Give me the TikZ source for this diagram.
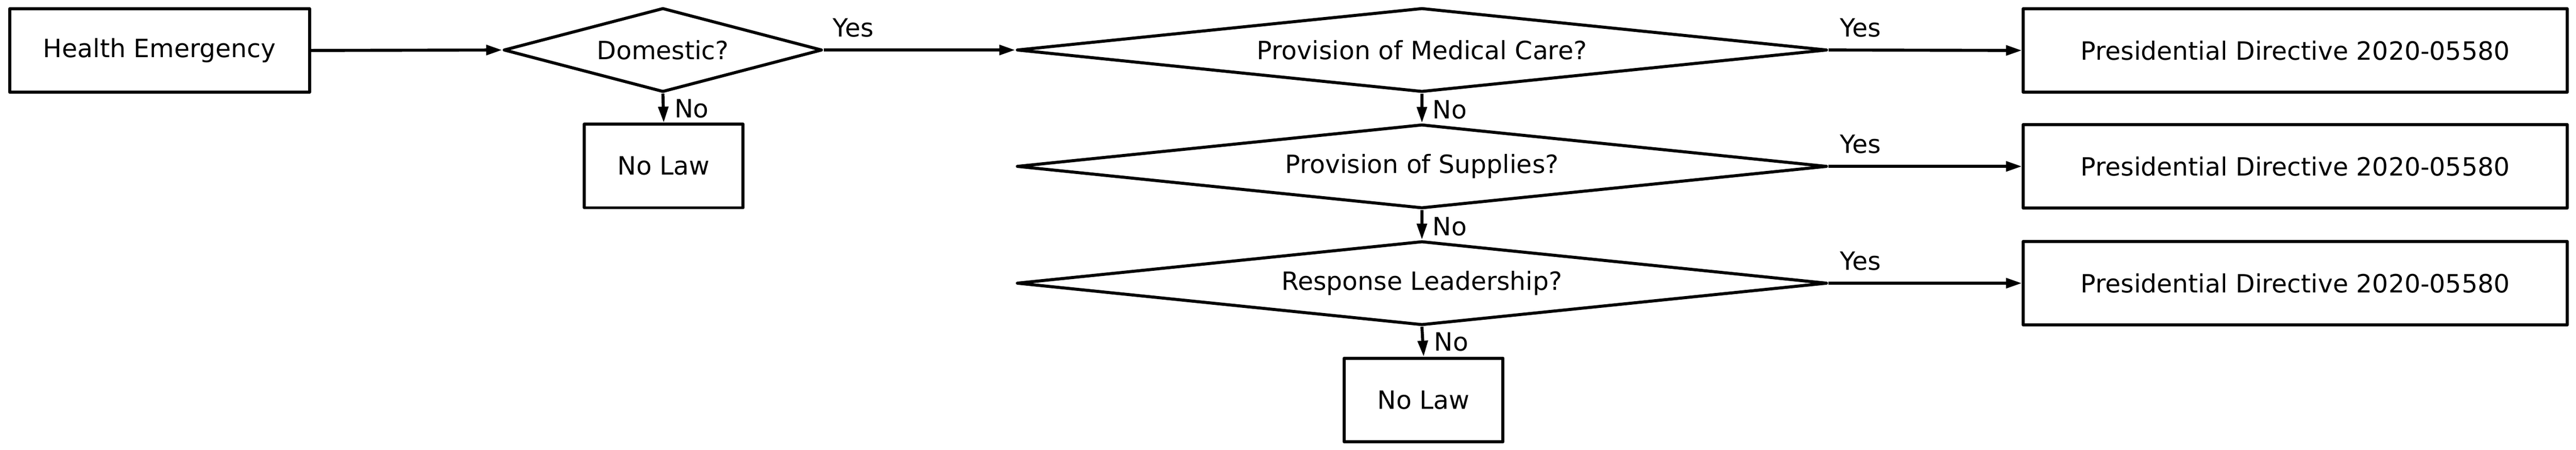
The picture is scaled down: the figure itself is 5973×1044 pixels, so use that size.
\documentclass[tikz,border=0pt]{standalone}
\usepackage{fontspec}
\setmainfont{DejaVu Sans}
\usetikzlibrary{shapes.geometric,arrows.meta}
\begin{document}
\begin{tikzpicture}[x=0.01cm,y=-0.01cm,
  every node/.style={font=\fontsize{16.6pt}{20pt}\selectfont},
  box/.style={draw,line width=2pt,line join=round,rectangle,inner sep=0pt,minimum height=1.94cm},
  dia/.style={draw,line width=2pt,line join=round,diamond,inner sep=0pt,aspect=6,minimum height=1.95cm},
  conn/.style={line width=2pt,-{Triangle[length=10.5pt,width=6.5pt]}},
  lab/.style={anchor=base west,inner sep=0pt}]
\useasboundingbox (0,0) rectangle (5973,1044);
\node[box,minimum width=6.95cm] (he) at (370,117) {Health Emergency};
\node[dia,minimum width=7.38cm] (dom) at (1537,116) {Domestic?};
\node[box,minimum width=3.68cm] (nl1) at (1539,385) {No Law};
\node[dia,minimum width=18.78cm] (med) at (3297,116) {Provision of Medical Care?};
\node[dia,minimum width=18.78cm] (sup) at (3297,386) {Provision of Supplies?};
\node[dia,minimum width=18.78cm] (lead) at (3297,657) {Response Leadership?};
\node[box,minimum width=3.68cm] (nl2) at (3301,928) {No Law};
\node[box,minimum width=12.60cm] (pd1) at (5322,117) {Presidential Directive 2020-05580};
\node[box,minimum width=12.60cm] (pd2) at (5322,386) {Presidential Directive 2020-05580};
\node[box,minimum width=12.60cm] (pd3) at (5322,657) {Presidential Directive 2020-05580};
\draw[conn] (he.east) -- (dom.west);
\draw[conn] (dom.east) -- (med.west);
\draw[conn] (dom.south) -- (nl1.north);
\draw[conn] (med.east) -- (pd1.west);
\draw[conn] (med.south) -- (sup.north);
\draw[conn] (sup.east) -- (pd2.west);
\draw[conn] (sup.south) -- (lead.north);
\draw[conn] (lead.east) -- (pd3.west);
\draw[conn] (lead.south) -- (nl2.north);
\node[lab,xshift=0.21cm,yshift=0.30cm] (y1) at (dom.east) {Yes};
\node[lab,xshift=0.26cm,yshift=0.30cm] (y2) at (med.east) {Yes};
\node[lab,xshift=0.26cm,yshift=0.31cm] (y3) at (sup.east) {Yes};
\node[lab,xshift=0.26cm,yshift=0.31cm] (y4) at (lead.east) {Yes};
\node[lab,xshift=0.24cm,yshift=0.11cm] (n1) at (nl1.north) {No};
\node[lab,xshift=0.24cm,yshift=0.09cm] (n2) at (sup.north) {No};
\node[lab,xshift=0.24cm,yshift=0.09cm] (n3) at (lead.north) {No};
\node[lab,xshift=0.24cm,yshift=0.13cm] (n4) at (nl2.north) {No};
\end{tikzpicture}
\end{document}
